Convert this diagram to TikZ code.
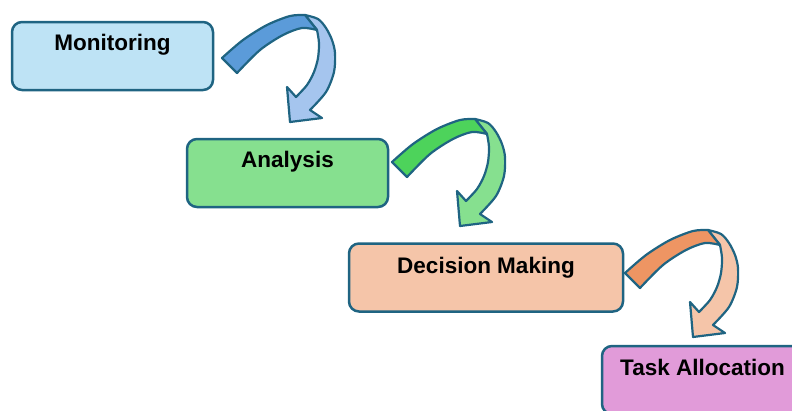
\documentclass[tikz,border=0pt]{standalone}
\usepackage{fontspec}
\setmainfont{Liberation Sans}
\definecolor{bord}{RGB}{31,100,130}
\definecolor{monfill}{HTML}{BEE3F5}
\definecolor{anafill}{HTML}{86E08F}
\definecolor{decfill}{HTML}{F5C5A9}
\definecolor{taskfill}{HTML}{E19BD9}
\definecolor{aonedark}{HTML}{5B9BD9}
\definecolor{aonelight}{HTML}{A5C5EE}
\definecolor{atwodark}{HTML}{4DD35B}
\definecolor{atwolight}{HTML}{86E08F}
\definecolor{athreedark}{HTML}{EE9563}
\definecolor{athreelight}{HTML}{F5C5A9}
\tikzset{
  box/.style={draw=bord, line width=2.5pt, rounded corners=10pt, minimum width=201pt, minimum height=68pt, inner sep=0pt},
  lbl/.style={font=\fontsize{22.5}{25}\selectfont\bfseries, anchor=base, inner sep=0pt},
  arrowline/.style={draw=bord, line width=2.2pt, line join=round},
  pics/bentarrow/.style 2 args={code={
    \path[arrowline, fill=#2]
      plot[smooth] coordinates {(305,15) (318,19) (326,28) (332,40) (335,53) (334,72) (326,92) (310,110)}
      -- (322,118) -- (290,122) -- (287,87) -- (296,97)
      -- plot[smooth] coordinates {(296,97) (307,85) (314,72) (318,58) (319,43) (317,30)}
      -- cycle;
    \path[arrowline, fill=#1]
      plot[smooth] coordinates {(222,58) (243,40) (267,25) (290,16) (305,15)}
      -- (317,30)
      -- plot[smooth] coordinates {(317,30) (302,28) (283,35) (260,50) (237,73)}
      -- cycle;
  }}
}
\begin{document}
\begin{tikzpicture}[x=1pt,y=-1pt]
\useasboundingbox (0,0) rectangle (792,410);
\node[box, fill=monfill] (mon) at (112.5,56) {};
\node[box, fill=anafill] (ana) at (287.5,173) {};
\node[box, fill=decfill, minimum width=274pt] (dec) at (486,277.5) {};
\node[box, fill=taskfill] (task) at (702.5,380) {};
\node[lbl] (monT) at (112.5,50) {Monitoring};
\node[lbl] (anaT) at (287.5,167) {Analysis};
\node[lbl] (decT) at (486,273) {Decision Making};
\node[lbl] (taskT) at (702.5,375) {Task Allocation};
\pic (arrA) at (0,0) {bentarrow={aonedark}{aonelight}};
\pic (arrB) at (170,104) {bentarrow={atwodark}{atwolight}};
\pic (arrC) at (403,215) {bentarrow={athreedark}{athreelight}};
\end{tikzpicture}
\end{document}
